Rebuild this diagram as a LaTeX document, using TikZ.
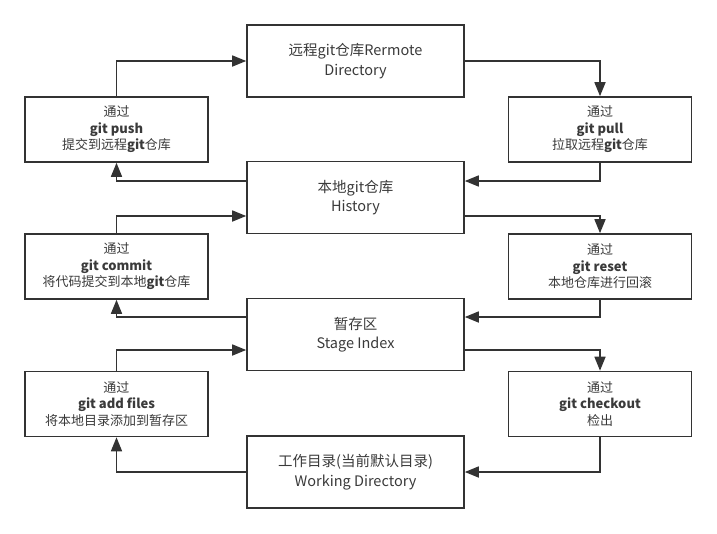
\documentclass[tikz,border=0pt]{standalone}
\usepackage{fontspec}
\setmainfont{Noto Sans CJK SC}
\usetikzlibrary{arrows.meta}
\definecolor{ink}{HTML}{333333}
\definecolor{txt}{HTML}{3A3A3A}
\begin{document}
\begin{tikzpicture}[x=1pt,y=-1pt,
 mainbox/.style={draw=ink, line width=1.6pt, minimum width=217pt, minimum height=72pt, inner sep=0pt, align=center, text=txt, font=\fontsize{14.5}{19.5}\selectfont},
 sidebox/.style={draw=ink, line width=1.6pt, minimum width=183pt, minimum height=65pt, inner sep=0pt, align=center, text=txt, font=\fontsize{13}{16.5}\selectfont},
 arr/.style={draw=ink, line width=1.6pt, -{Triangle[length=14pt,width=11pt]}}]
\useasboundingbox (0,0) rectangle (717,533);
\node[mainbox] (remote) at (355.5,61) {远程git仓库Rermote\\Directory};
\node[mainbox] (history) at (355.5,197.5) {本地git仓库\\History};
\node[mainbox] (stage) at (355.5,334.5) {暂存区\\Stage Index};
\node[mainbox] (work) at (355.5,472) {工作目录(当前默认目录)\\Working Directory};
\node[sidebox] (push) at (116.5,129.5) {通过\\\textbf{git push}\\提交到远程\textbf{git}仓库};
\node[sidebox] (commit) at (116.5,266.5) {通过\\\textbf{git commit}\\将代码提交到本地\textbf{git}仓库};
\node[sidebox] (add) at (116.5,404) {通过\\\textbf{git add files}\\将本地目录添加到暂存区};
\node[sidebox] (pull) at (600,129.5) {通过\\\textbf{git pull}\\拉取远程\textbf{git}仓库};
\node[sidebox] (reset) at (600,266.5) {通过\\\textbf{git reset}\\本地仓库进行回滚};
\node[sidebox] (checkout) at (600,404) {通过\\\textbf{git checkout}\\检出};
\draw[arr] (push.north) |- (remote.west);
\draw[arr] (history.west |- 0,181) -| (push.south);
\draw[arr] (commit.north) |- (history.west |- 0,216);
\draw[arr] (stage.west |- 0,317) -| (commit.south);
\draw[arr] (add.north) |- (stage.west |- 0,350);
\draw[arr] (work.west) -| (add.south);
\draw[arr] (remote.east) -| (pull.north);
\draw[arr] (pull.south) |- (history.east |- 0,181);
\draw[arr] (history.east |- 0,216) -| (reset.north);
\draw[arr] (reset.south) |- (stage.east |- 0,317);
\draw[arr] (stage.east |- 0,350) -| (checkout.north);
\draw[arr] (checkout.south) |- (work.east);
\end{tikzpicture}
\end{document}
